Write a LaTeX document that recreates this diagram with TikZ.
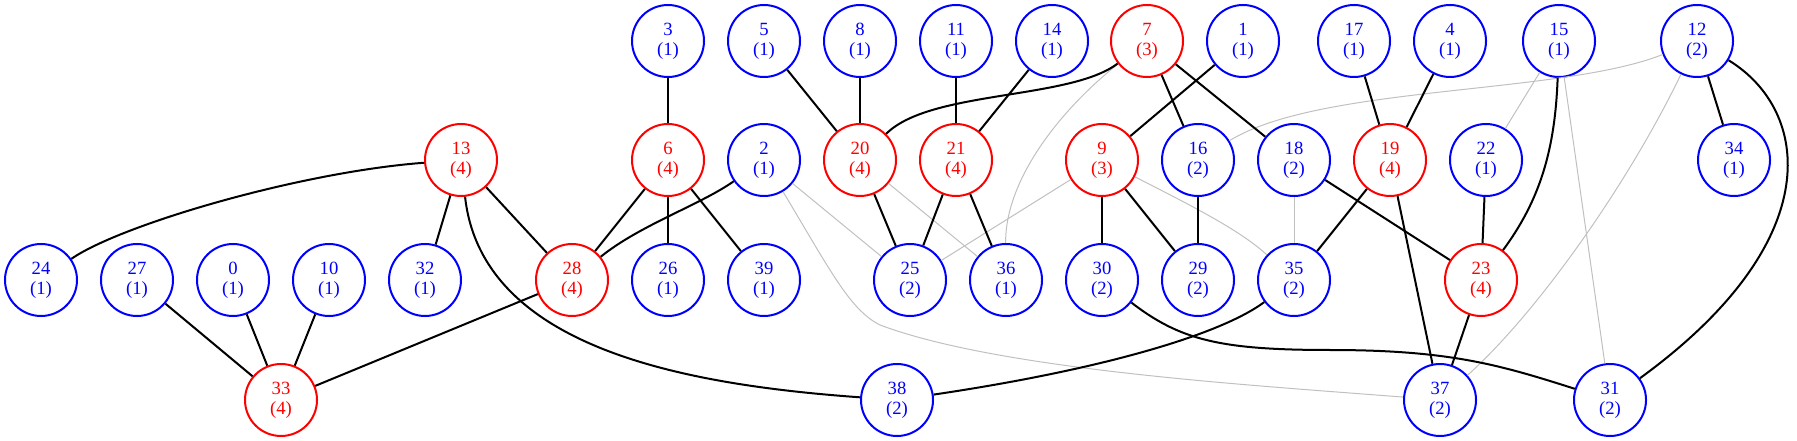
\documentclass[tikz,border=0pt]{standalone}
\usepackage{fontspec}
\setmainfont{Liberation Serif}
\definecolor{edgegray}{HTML}{C0C0C0}

\begin{document}
\begin{tikzpicture}[x=0.75pt, y=-0.75pt,
  bnode/.style={circle, draw=blue, text=blue, line width=1.5pt,
    minimum size=54pt, inner sep=0pt, align=center,
    font=\fontsize{14}{15}\selectfont},
  rnode/.style={bnode, draw=red, text=red},
  strong/.style={line width=1.5pt},
  weak/.style={line width=0.75pt, edgegray}]
  \useasboundingbox (0,0) rectangle (1797,441);

  % top row
  \node[bnode] (n3)  at (668,41)  {3\\(1)};
  \node[bnode] (n5)  at (764,41)  {5\\(1)};
  \node[bnode] (n8)  at (860,41)  {8\\(1)};
  \node[bnode] (n11) at (956,41)  {11\\(1)};
  \node[bnode] (n14) at (1052,41) {14\\(1)};
  \node[rnode] (n7)  at (1147,41) {7\\(3)};
  \node[bnode] (n1)  at (1243,41) {1\\(1)};
  \node[bnode] (n17) at (1354,41) {17\\(1)};
  \node[bnode] (n4)  at (1450,41) {4\\(1)};
  \node[bnode] (n15) at (1559,41) {15\\(1)};
  \node[bnode] (n12) at (1697,41) {12\\(2)};

  % second row
  \node[rnode] (n13) at (461,160)  {13\\(4)};
  \node[rnode] (n6)  at (668,160)  {6\\(4)};
  \node[bnode] (n2)  at (764,160)  {2\\(1)};
  \node[rnode] (n20) at (860,160)  {20\\(4)};
  \node[rnode] (n21) at (956,160)  {21\\(4)};
  \node[rnode] (n9)  at (1102,160) {9\\(3)};
  \node[bnode] (n16) at (1198,160) {16\\(2)};
  \node[bnode] (n18) at (1294,160) {18\\(2)};
  \node[rnode] (n19) at (1390,160) {19\\(4)};
  \node[bnode] (n22) at (1486,160) {22\\(1)};
  \node[bnode] (n34) at (1734,160) {34\\(1)};

  % third row
  \node[bnode] (n24) at (41,280)   {24\\(1)};
  \node[bnode] (n27) at (137,280)  {27\\(1)};
  \node[bnode] (n0)  at (233,280)  {0\\(1)};
  \node[bnode] (n10) at (329,280)  {10\\(1)};
  \node[bnode] (n32) at (425,280)  {32\\(1)};
  \node[rnode] (n28) at (572,280)  {28\\(4)};
  \node[bnode] (n26) at (668,280)  {26\\(1)};
  \node[bnode] (n39) at (764,280)  {39\\(1)};
  \node[bnode] (n25) at (910,280)  {25\\(2)};
  \node[bnode] (n36) at (1006,280) {36\\(1)};
  \node[bnode] (n30) at (1102,280) {30\\(2)};
  \node[bnode] (n29) at (1198,280) {29\\(2)};
  \node[bnode] (n35) at (1294,280) {35\\(2)};
  \node[rnode] (n23) at (1481,280) {23\\(4)};

  % bottom row
  \node[rnode] (n33) at (281,400)  {33\\(4)};
  \node[bnode] (n38) at (897,400)  {38\\(2)};
  \node[bnode] (n37) at (1440,400) {37\\(2)};
  \node[bnode] (n31) at (1610,400) {31\\(2)};

  % light edges
  \draw[weak] (n2) -- (n25);
  \draw[weak] (n20) -- (n36);
  \draw[weak] (n9) -- (n25);
  \draw[weak] (n18) -- (n35);
  \draw[weak] (n15) -- (n22);
  \draw[weak] (n15) -- (n31);
  \draw[weak] (n7) .. controls (1060,110) and (1005,180) .. (n36);
  \draw[weak] (n9) .. controls (1190,205) and (1240,230) .. (n35);
  \draw[weak] (n2) .. controls (830,270) and (850,310) .. (880,325)
    .. controls (1000,370) and (1250,385) .. (n37);
  \draw[weak] (n12) .. controls (1560,95) and (1320,85) .. (n16);
  \draw[weak] (n12) .. controls (1630,180) and (1540,310) .. (n37);

  % strong edges
  \draw[strong] (n13) .. controls (300,172) and (120,225) .. (n24);
  \draw[strong] (n13) -- (n32);
  \draw[strong] (n13) -- (n28);
  \draw[strong] (n13) .. controls (482,350) and (690,385) .. (n38);
  \draw[strong] (n27) -- (n33);
  \draw[strong] (n0) -- (n33);
  \draw[strong] (n10) -- (n33);
  \draw[strong] (n28) -- (n33);
  \draw[strong] (n3) -- (n6);
  \draw[strong] (n6) -- (n28);
  \draw[strong] (n6) -- (n26);
  \draw[strong] (n6) -- (n39);
  \draw[strong] (n2) .. controls (700,205) and (640,225) .. (n28);
  \draw[strong] (n5) -- (n20);
  \draw[strong] (n8) -- (n20);
  \draw[strong] (n7) .. controls (1070,100) and (930,90) .. (n20);
  \draw[strong] (n11) -- (n21);
  \draw[strong] (n14) -- (n21);
  \draw[strong] (n20) -- (n25);
  \draw[strong] (n21) -- (n25);
  \draw[strong] (n21) -- (n36);
  \draw[strong] (n7) -- (n16);
  \draw[strong] (n7) -- (n18);
  \draw[strong] (n1) -- (n9);
  \draw[strong] (n9) -- (n30);
  \draw[strong] (n9) -- (n29);
  \draw[strong] (n16) -- (n29);
  \draw[strong] (n17) -- (n19);
  \draw[strong] (n4) -- (n19);
  \draw[strong] (n19) -- (n35);
  \draw[strong] (n19) -- (n37);
  \draw[strong] (n18) -- (n23);
  \draw[strong] (n22) -- (n23);
  \draw[strong] (n15) .. controls (1555,150) and (1540,200) .. (n23);
  \draw[strong] (n23) -- (n37);
  \draw[strong] (n12) -- (n34);
  \draw[strong] (n12) .. controls (1810,110) and (1830,240) .. (n31);
  \draw[strong] (n30) .. controls (1180,340) and (1220,350) .. (1330,350)
    .. controls (1450,350) and (1500,365) .. (n31);
  \draw[strong] (n35) .. controls (1220,335) and (1100,370) .. (n38);
\end{tikzpicture}
\end{document}
